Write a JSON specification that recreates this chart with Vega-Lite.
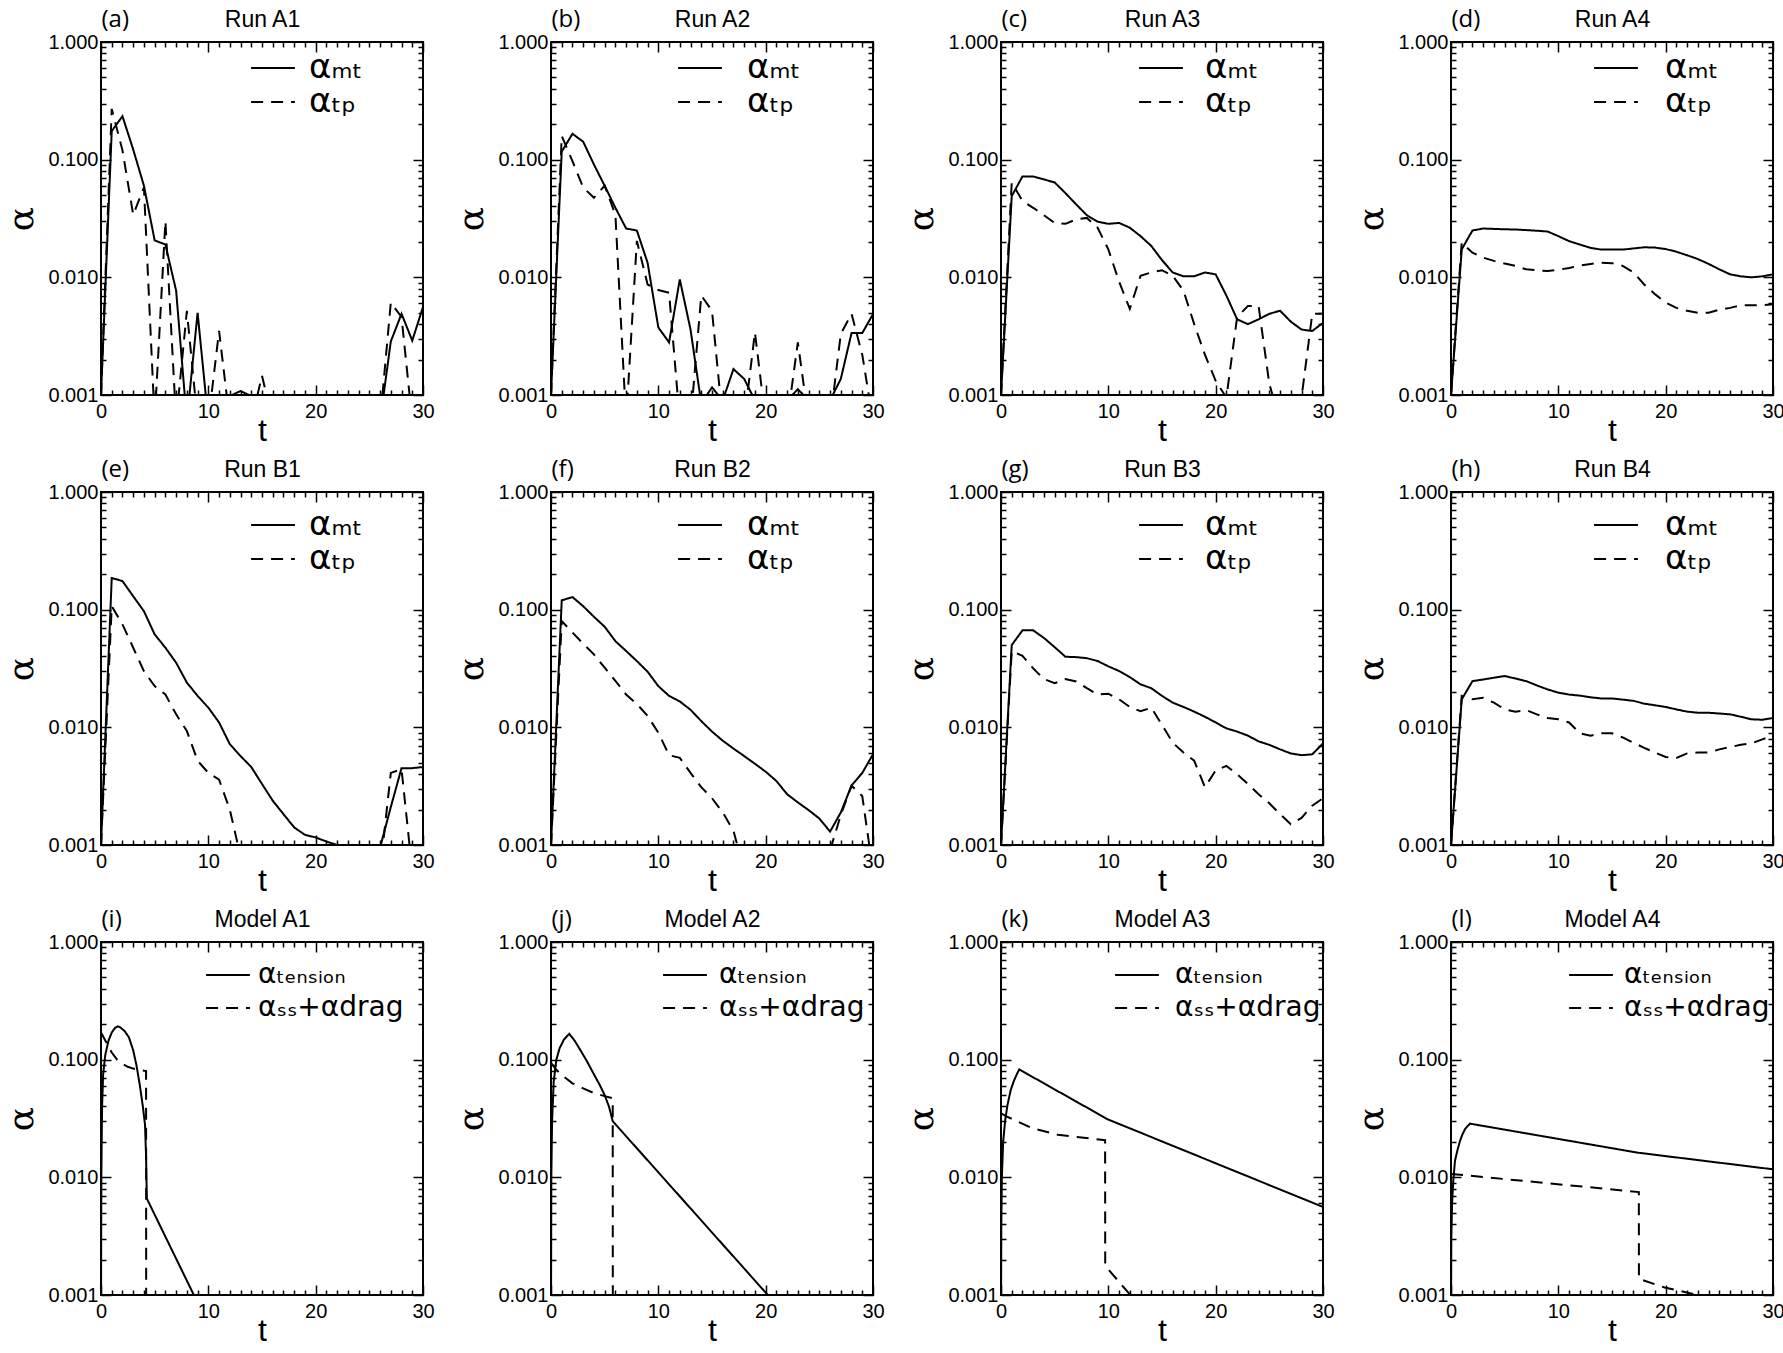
{
  "$schema": "https://vega.github.io/schema/vega-lite/v6.json",
  "background": "white",
  "padding": {"left": 2, "top": 6, "right": 5, "bottom": 5},
  "columns": 4,
  "spacing": {"row": 97, "column": 128},
  "bounds": "flush",
  "resolve": {"scale": {"strokeDash": "independent"}, "legend": {"strokeDash": "independent"}},
  "config": {
    "font": "Liberation Sans",
    "view": {"stroke": "black", "strokeWidth": 2},
    "line": {"color": "black", "strokeWidth": 2},
    "axis": {"grid": false, "domain": false, "tickColor": "black", "tickWidth": 1.5, "labelColor": "black", "labelFont": "Liberation Sans", "labelFontSize": 20, "titleColor": "black", "titleFont": "Liberation Sans", "titleFontWeight": "normal", "labelFlush": false, "labelOverlap": false, "labelBound": false},
    "axisBottom": {"titleFontSize": 32, "titlePadding": -11, "labelPadding": 16},
    "axisLeft": {"titleFont": "DejaVu Serif", "titleFontSize": 36, "titlePadding": 7, "labelPadding": 13},
    "legend": {"title": null, "orient": "none", "symbolType": "M-2,0H2", "symbolSize": 480, "symbolStrokeWidth": 2, "symbolStrokeColor": "black", "symbolFillColor": "transparent", "labelFont": "DejaVu Sans", "labelColor": "black", "padding": 0}
  },
  "datasets": {
    "runA1": [
      {"s":"mt","t":0,"v":0.001},{"s":"mt","t":1,"v":0.175},{"s":"mt","t":2,"v":0.234},{"s":"mt","t":3,"v":0.122},{"s":"mt","t":4,"v":0.06},{"s":"mt","t":5,"v":0.0206},{"s":"mt","t":6,"v":0.019},{"s":"mt","t":7,"v":0.0077},{"s":"mt","t":8,"v":0.0006},{"s":"mt","t":9,"v":0.005},{"s":"mt","t":10,"v":0.0006},{"s":"mt","t":11,"v":0.0006},{"s":"mt","t":12,"v":0.00098},{"s":"mt","t":13,"v":0.00108},{"s":"mt","t":14,"v":0.00098},{"s":"mt","t":15,"v":0.0006},{"s":"mt","t":16,"v":0.0006},{"s":"mt","t":17,"v":0.0006},{"s":"mt","t":18,"v":0.0006},{"s":"mt","t":19,"v":0.0006},{"s":"mt","t":20,"v":0.0006},{"s":"mt","t":21,"v":0.0006},{"s":"mt","t":22,"v":0.0006},{"s":"mt","t":23,"v":0.0006},{"s":"mt","t":24,"v":0.0006},{"s":"mt","t":25,"v":0.0006},{"s":"mt","t":26,"v":0.0006},{"s":"mt","t":27,"v":0.00285},{"s":"mt","t":28,"v":0.0049},{"s":"mt","t":29,"v":0.0029},{"s":"mt","t":30,"v":0.0056},
      {"s":"tp","t":0,"v":0.001},{"s":"tp","t":1,"v":0.27},{"s":"tp","t":2,"v":0.12},{"s":"tp","t":3,"v":0.034},{"s":"tp","t":4,"v":0.058},{"s":"tp","t":5,"v":0.0006},{"s":"tp","t":6,"v":0.03},{"s":"tp","t":7,"v":0.0006},{"s":"tp","t":8,"v":0.0052},{"s":"tp","t":9,"v":0.0006},{"s":"tp","t":10,"v":0.0006},{"s":"tp","t":11,"v":0.0035},{"s":"tp","t":12,"v":0.0006},{"s":"tp","t":13,"v":0.0006},{"s":"tp","t":14,"v":0.0006},{"s":"tp","t":15,"v":0.00146},{"s":"tp","t":16,"v":0.0006},{"s":"tp","t":17,"v":0.0006},{"s":"tp","t":18,"v":0.0006},{"s":"tp","t":19,"v":0.0006},{"s":"tp","t":20,"v":0.0006},{"s":"tp","t":21,"v":0.0006},{"s":"tp","t":22,"v":0.0006},{"s":"tp","t":23,"v":0.0006},{"s":"tp","t":24,"v":0.0006},{"s":"tp","t":25,"v":0.0006},{"s":"tp","t":26,"v":0.0006},{"s":"tp","t":27,"v":0.0061},{"s":"tp","t":28,"v":0.0046},{"s":"tp","t":29,"v":0.0006},{"s":"tp","t":30,"v":0.0006}
    ],
    "runA2": [
      {"s":"mt","t":0,"v":0.001},{"s":"mt","t":1,"v":0.117},{"s":"mt","t":2,"v":0.166},{"s":"mt","t":3,"v":0.142},{"s":"mt","t":4,"v":0.091},{"s":"mt","t":5,"v":0.06},{"s":"mt","t":6,"v":0.039},{"s":"mt","t":7,"v":0.026},{"s":"mt","t":8,"v":0.025},{"s":"mt","t":9,"v":0.0133},{"s":"mt","t":10,"v":0.00375},{"s":"mt","t":11,"v":0.0028},{"s":"mt","t":12,"v":0.0096},{"s":"mt","t":13,"v":0.0036},{"s":"mt","t":14,"v":0.00085},{"s":"mt","t":15,"v":0.00116},{"s":"mt","t":16,"v":0.0009},{"s":"mt","t":17,"v":0.00166},{"s":"mt","t":18,"v":0.00137},{"s":"mt","t":19,"v":0.0009},{"s":"mt","t":20,"v":0.0006},{"s":"mt","t":21,"v":0.0006},{"s":"mt","t":22,"v":0.0009},{"s":"mt","t":23,"v":0.00112},{"s":"mt","t":24,"v":0.0009},{"s":"mt","t":25,"v":0.0006},{"s":"mt","t":26,"v":0.0009},{"s":"mt","t":27,"v":0.00137},{"s":"mt","t":28,"v":0.00336},{"s":"mt","t":29,"v":0.00336},{"s":"mt","t":30,"v":0.00487},
      {"s":"tp","t":0,"v":0.001},{"s":"tp","t":1,"v":0.159},{"s":"tp","t":2,"v":0.097},{"s":"tp","t":3,"v":0.058},{"s":"tp","t":4,"v":0.0475},{"s":"tp","t":5,"v":0.06},{"s":"tp","t":6,"v":0.034},{"s":"tp","t":7,"v":0.0006},{"s":"tp","t":8,"v":0.0204},{"s":"tp","t":9,"v":0.0087},{"s":"tp","t":10,"v":0.0078},{"s":"tp","t":11,"v":0.0074},{"s":"tp","t":12,"v":0.0006},{"s":"tp","t":13,"v":0.0006},{"s":"tp","t":14,"v":0.007},{"s":"tp","t":15,"v":0.0052},{"s":"tp","t":16,"v":0.0006},{"s":"tp","t":17,"v":0.0006},{"s":"tp","t":18,"v":0.0006},{"s":"tp","t":19,"v":0.0034},{"s":"tp","t":20,"v":0.0006},{"s":"tp","t":21,"v":0.0006},{"s":"tp","t":22,"v":0.0006},{"s":"tp","t":23,"v":0.0028},{"s":"tp","t":24,"v":0.0006},{"s":"tp","t":25,"v":0.0006},{"s":"tp","t":26,"v":0.0006},{"s":"tp","t":27,"v":0.0033},{"s":"tp","t":28,"v":0.0049},{"s":"tp","t":29,"v":0.0022},{"s":"tp","t":30,"v":0.0006}
    ],
    "runA3": [
      {"s":"mt","t":0,"v":0.001},{"s":"mt","t":1,"v":0.049},{"s":"mt","t":2,"v":0.072},{"s":"mt","t":3,"v":0.072},{"s":"mt","t":4,"v":0.068},{"s":"mt","t":5,"v":0.064},{"s":"mt","t":6,"v":0.052},{"s":"mt","t":7,"v":0.0417},{"s":"mt","t":8,"v":0.0337},{"s":"mt","t":9,"v":0.0297},{"s":"mt","t":10,"v":0.0285},{"s":"mt","t":11,"v":0.029},{"s":"mt","t":12,"v":0.0264},{"s":"mt","t":13,"v":0.0224},{"s":"mt","t":14,"v":0.0185},{"s":"mt","t":15,"v":0.014},{"s":"mt","t":16,"v":0.011},{"s":"mt","t":17,"v":0.0102},{"s":"mt","t":18,"v":0.0102},{"s":"mt","t":19,"v":0.011},{"s":"mt","t":20,"v":0.0106},{"s":"mt","t":21,"v":0.007},{"s":"mt","t":22,"v":0.0044},{"s":"mt","t":23,"v":0.004},{"s":"mt","t":24,"v":0.0044},{"s":"mt","t":25,"v":0.0049},{"s":"mt","t":26,"v":0.0052},{"s":"mt","t":27,"v":0.0042},{"s":"mt","t":28,"v":0.0036},{"s":"mt","t":29,"v":0.0035},{"s":"mt","t":30,"v":0.0041},
      {"s":"tp","t":0,"v":0.001},{"s":"tp","t":1,"v":0.064},{"s":"tp","t":2,"v":0.0445},{"s":"tp","t":3,"v":0.039},{"s":"tp","t":4,"v":0.0337},{"s":"tp","t":5,"v":0.029},{"s":"tp","t":6,"v":0.0285},{"s":"tp","t":7,"v":0.0311},{"s":"tp","t":8,"v":0.032},{"s":"tp","t":9,"v":0.0264},{"s":"tp","t":10,"v":0.0173},{"s":"tp","t":11,"v":0.0092},{"s":"tp","t":12,"v":0.0054},{"s":"tp","t":13,"v":0.0103},{"s":"tp","t":14,"v":0.011},{"s":"tp","t":15,"v":0.0115},{"s":"tp","t":16,"v":0.0103},{"s":"tp","t":17,"v":0.0077},{"s":"tp","t":18,"v":0.004},{"s":"tp","t":19,"v":0.0022},{"s":"tp","t":20,"v":0.00132},{"s":"tp","t":21,"v":0.00095},{"s":"tp","t":22,"v":0.0046},{"s":"tp","t":23,"v":0.0057},{"s":"tp","t":24,"v":0.0057},{"s":"tp","t":25,"v":0.00124},{"s":"tp","t":26,"v":0.0006},{"s":"tp","t":27,"v":0.0006},{"s":"tp","t":28,"v":0.00095},{"s":"tp","t":29,"v":0.0049},{"s":"tp","t":30,"v":0.0049}
    ],
    "runA4": [
      {"s":"mt","t":0,"v":0.001},{"s":"mt","t":1,"v":0.0173},{"s":"mt","t":2,"v":0.025},{"s":"mt","t":3,"v":0.026},{"s":"mt","t":4,"v":0.0258},{"s":"mt","t":5,"v":0.0256},{"s":"mt","t":6,"v":0.0255},{"s":"mt","t":7,"v":0.0252},{"s":"mt","t":8,"v":0.0249},{"s":"mt","t":9,"v":0.0245},{"s":"mt","t":10,"v":0.0224},{"s":"mt","t":11,"v":0.0203},{"s":"mt","t":12,"v":0.019},{"s":"mt","t":13,"v":0.0178},{"s":"mt","t":14,"v":0.0172},{"s":"mt","t":15,"v":0.0172},{"s":"mt","t":16,"v":0.0172},{"s":"mt","t":17,"v":0.0176},{"s":"mt","t":18,"v":0.018},{"s":"mt","t":19,"v":0.0179},{"s":"mt","t":20,"v":0.0174},{"s":"mt","t":21,"v":0.0165},{"s":"mt","t":22,"v":0.0154},{"s":"mt","t":23,"v":0.0143},{"s":"mt","t":24,"v":0.013},{"s":"mt","t":25,"v":0.0117},{"s":"mt","t":26,"v":0.0106},{"s":"mt","t":27,"v":0.0102},{"s":"mt","t":28,"v":0.01},{"s":"mt","t":29,"v":0.0102},{"s":"mt","t":30,"v":0.0106},
      {"s":"tp","t":0,"v":0.001},{"s":"tp","t":1,"v":0.0197},{"s":"tp","t":2,"v":0.0162},{"s":"tp","t":3,"v":0.0147},{"s":"tp","t":4,"v":0.0138},{"s":"tp","t":5,"v":0.0131},{"s":"tp","t":6,"v":0.0125},{"s":"tp","t":7,"v":0.0117},{"s":"tp","t":8,"v":0.0115},{"s":"tp","t":9,"v":0.0113},{"s":"tp","t":10,"v":0.0116},{"s":"tp","t":11,"v":0.012},{"s":"tp","t":12,"v":0.0126},{"s":"tp","t":13,"v":0.013},{"s":"tp","t":14,"v":0.0133},{"s":"tp","t":15,"v":0.0132},{"s":"tp","t":16,"v":0.0125},{"s":"tp","t":17,"v":0.011},{"s":"tp","t":18,"v":0.0087},{"s":"tp","t":19,"v":0.0072},{"s":"tp","t":20,"v":0.0061},{"s":"tp","t":21,"v":0.0055},{"s":"tp","t":22,"v":0.0052},{"s":"tp","t":23,"v":0.005},{"s":"tp","t":24,"v":0.005},{"s":"tp","t":25,"v":0.0053},{"s":"tp","t":26,"v":0.0055},{"s":"tp","t":27,"v":0.0058},{"s":"tp","t":28,"v":0.0058},{"s":"tp","t":29,"v":0.0058},{"s":"tp","t":30,"v":0.0059}
    ],
    "runB1": [
      {"s":"mt","t":0,"v":0.001},{"s":"mt","t":1,"v":0.186},{"s":"mt","t":2,"v":0.175},{"s":"mt","t":3,"v":0.13},{"s":"mt","t":4,"v":0.097},{"s":"mt","t":5,"v":0.0616},{"s":"mt","t":6,"v":0.0475},{"s":"mt","t":7,"v":0.0354},{"s":"mt","t":8,"v":0.024},{"s":"mt","t":9,"v":0.0185},{"s":"mt","t":10,"v":0.0147},{"s":"mt","t":11,"v":0.011},{"s":"mt","t":12,"v":0.0072},{"s":"mt","t":13,"v":0.0057},{"s":"mt","t":14,"v":0.0046},{"s":"mt","t":15,"v":0.0033},{"s":"mt","t":16,"v":0.00238},{"s":"mt","t":17,"v":0.00183},{"s":"mt","t":18,"v":0.00141},{"s":"mt","t":19,"v":0.00122},{"s":"mt","t":20,"v":0.00116},{"s":"mt","t":21,"v":0.00107},{"s":"mt","t":22,"v":0.001},{"s":"mt","t":23,"v":0.00095},{"s":"mt","t":24,"v":0.00095},{"s":"mt","t":25,"v":0.00095},{"s":"mt","t":26,"v":0.00095},{"s":"mt","t":27,"v":0.0021},{"s":"mt","t":28,"v":0.0045},{"s":"mt","t":29,"v":0.0045},{"s":"mt","t":30,"v":0.0046},
      {"s":"tp","t":0,"v":0.001},{"s":"tp","t":1,"v":0.107},{"s":"tp","t":2,"v":0.075},{"s":"tp","t":3,"v":0.0475},{"s":"tp","t":4,"v":0.03},{"s":"tp","t":5,"v":0.0224},{"s":"tp","t":6,"v":0.019},{"s":"tp","t":7,"v":0.0129},{"s":"tp","t":8,"v":0.0093},{"s":"tp","t":9,"v":0.0052},{"s":"tp","t":10,"v":0.0041},{"s":"tp","t":11,"v":0.0036},{"s":"tp","t":12,"v":0.002},{"s":"tp","t":13,"v":0.0008},{"s":"tp","t":14,"v":0.00098},{"s":"tp","t":15,"v":0.0006},{"s":"tp","t":16,"v":0.0006},{"s":"tp","t":17,"v":0.0006},{"s":"tp","t":18,"v":0.0006},{"s":"tp","t":19,"v":0.0006},{"s":"tp","t":20,"v":0.0006},{"s":"tp","t":21,"v":0.0006},{"s":"tp","t":22,"v":0.0006},{"s":"tp","t":23,"v":0.0006},{"s":"tp","t":24,"v":0.0006},{"s":"tp","t":25,"v":0.0006},{"s":"tp","t":26,"v":0.0006},{"s":"tp","t":27,"v":0.0041},{"s":"tp","t":28,"v":0.0044},{"s":"tp","t":29,"v":0.0006},{"s":"tp","t":30,"v":0.0006}
    ],
    "runB2": [
      {"s":"mt","t":0,"v":0.001},{"s":"mt","t":1,"v":0.12},{"s":"mt","t":2,"v":0.128},{"s":"mt","t":3,"v":0.107},{"s":"mt","t":4,"v":0.087},{"s":"mt","t":5,"v":0.0716},{"s":"mt","t":6,"v":0.054},{"s":"mt","t":7,"v":0.0445},{"s":"mt","t":8,"v":0.0366},{"s":"mt","t":9,"v":0.0297},{"s":"mt","t":10,"v":0.0224},{"s":"mt","t":11,"v":0.0185},{"s":"mt","t":12,"v":0.0166},{"s":"mt","t":13,"v":0.0141},{"s":"mt","t":14,"v":0.0113},{"s":"mt","t":15,"v":0.0092},{"s":"mt","t":16,"v":0.0077},{"s":"mt","t":17,"v":0.0066},{"s":"mt","t":18,"v":0.0057},{"s":"mt","t":19,"v":0.0049},{"s":"mt","t":20,"v":0.0042},{"s":"mt","t":21,"v":0.0035},{"s":"mt","t":22,"v":0.0027},{"s":"mt","t":23,"v":0.0023},{"s":"mt","t":24,"v":0.00198},{"s":"mt","t":25,"v":0.00168},{"s":"mt","t":26,"v":0.0013},{"s":"mt","t":27,"v":0.00189},{"s":"mt","t":28,"v":0.0032},{"s":"mt","t":29,"v":0.0041},{"s":"mt","t":30,"v":0.0059},
      {"s":"tp","t":0,"v":0.001},{"s":"tp","t":1,"v":0.08},{"s":"tp","t":2,"v":0.064},{"s":"tp","t":3,"v":0.0513},{"s":"tp","t":4,"v":0.0417},{"s":"tp","t":5,"v":0.0321},{"s":"tp","t":6,"v":0.0248},{"s":"tp","t":7,"v":0.019},{"s":"tp","t":8,"v":0.0158},{"s":"tp","t":9,"v":0.0125},{"s":"tp","t":10,"v":0.009},{"s":"tp","t":11,"v":0.0058},{"s":"tp","t":12,"v":0.0055},{"s":"tp","t":13,"v":0.0041},{"s":"tp","t":14,"v":0.0031},{"s":"tp","t":15,"v":0.0025},{"s":"tp","t":16,"v":0.00189},{"s":"tp","t":17,"v":0.00132},{"s":"tp","t":18,"v":0.0006},{"s":"tp","t":19,"v":0.0006},{"s":"tp","t":20,"v":0.0006},{"s":"tp","t":21,"v":0.0006},{"s":"tp","t":22,"v":0.0006},{"s":"tp","t":23,"v":0.0006},{"s":"tp","t":24,"v":0.0006},{"s":"tp","t":25,"v":0.0006},{"s":"tp","t":26,"v":0.0009},{"s":"tp","t":27,"v":0.0018},{"s":"tp","t":28,"v":0.0032},{"s":"tp","t":29,"v":0.0026},{"s":"tp","t":30,"v":0.0006}
    ],
    "runB3": [
      {"s":"mt","t":0,"v":0.001},{"s":"mt","t":1,"v":0.05},{"s":"mt","t":2,"v":0.0667},{"s":"mt","t":3,"v":0.0667},{"s":"mt","t":4,"v":0.0575},{"s":"mt","t":5,"v":0.048},{"s":"mt","t":6,"v":0.0398},{"s":"mt","t":7,"v":0.0395},{"s":"mt","t":8,"v":0.0387},{"s":"mt","t":9,"v":0.0366},{"s":"mt","t":10,"v":0.033},{"s":"mt","t":11,"v":0.0301},{"s":"mt","t":12,"v":0.0267},{"s":"mt","t":13,"v":0.0232},{"s":"mt","t":14,"v":0.0215},{"s":"mt","t":15,"v":0.0185},{"s":"mt","t":16,"v":0.0162},{"s":"mt","t":17,"v":0.0149},{"s":"mt","t":18,"v":0.0136},{"s":"mt","t":19,"v":0.0123},{"s":"mt","t":20,"v":0.011},{"s":"mt","t":21,"v":0.0098},{"s":"mt","t":22,"v":0.0092},{"s":"mt","t":23,"v":0.0085},{"s":"mt","t":24,"v":0.0076},{"s":"mt","t":25,"v":0.0071},{"s":"mt","t":26,"v":0.0065},{"s":"mt","t":27,"v":0.006},{"s":"mt","t":28,"v":0.0058},{"s":"mt","t":29,"v":0.0059},{"s":"mt","t":30,"v":0.0073},
      {"s":"tp","t":0,"v":0.001},{"s":"tp","t":1,"v":0.0445},{"s":"tp","t":2,"v":0.0405},{"s":"tp","t":3,"v":0.0317},{"s":"tp","t":4,"v":0.0257},{"s":"tp","t":5,"v":0.0237},{"s":"tp","t":6,"v":0.0257},{"s":"tp","t":7,"v":0.0245},{"s":"tp","t":8,"v":0.0215},{"s":"tp","t":9,"v":0.019},{"s":"tp","t":10,"v":0.0193},{"s":"tp","t":11,"v":0.0173},{"s":"tp","t":12,"v":0.0149},{"s":"tp","t":13,"v":0.0137},{"s":"tp","t":14,"v":0.0147},{"s":"tp","t":15,"v":0.0105},{"s":"tp","t":16,"v":0.0074},{"s":"tp","t":17,"v":0.0061},{"s":"tp","t":18,"v":0.0052},{"s":"tp","t":19,"v":0.0031},{"s":"tp","t":20,"v":0.0043},{"s":"tp","t":21,"v":0.0047},{"s":"tp","t":22,"v":0.004},{"s":"tp","t":23,"v":0.0033},{"s":"tp","t":24,"v":0.0027},{"s":"tp","t":25,"v":0.00226},{"s":"tp","t":26,"v":0.00183},{"s":"tp","t":27,"v":0.0015},{"s":"tp","t":28,"v":0.0017},{"s":"tp","t":29,"v":0.00216},{"s":"tp","t":30,"v":0.0025}
    ],
    "runB4": [
      {"s":"mt","t":0,"v":0.001},{"s":"mt","t":1,"v":0.0173},{"s":"mt","t":2,"v":0.0247},{"s":"mt","t":3,"v":0.0255},{"s":"mt","t":4,"v":0.0264},{"s":"mt","t":5,"v":0.0273},{"s":"mt","t":6,"v":0.026},{"s":"mt","t":7,"v":0.0247},{"s":"mt","t":8,"v":0.0227},{"s":"mt","t":9,"v":0.021},{"s":"mt","t":10,"v":0.0197},{"s":"mt","t":11,"v":0.019},{"s":"mt","t":12,"v":0.0186},{"s":"mt","t":13,"v":0.018},{"s":"mt","t":14,"v":0.0176},{"s":"mt","t":15,"v":0.0176},{"s":"mt","t":16,"v":0.0172},{"s":"mt","t":17,"v":0.0168},{"s":"mt","t":18,"v":0.0159},{"s":"mt","t":19,"v":0.0154},{"s":"mt","t":20,"v":0.0149},{"s":"mt","t":21,"v":0.0142},{"s":"mt","t":22,"v":0.0136},{"s":"mt","t":23,"v":0.0133},{"s":"mt","t":24,"v":0.0133},{"s":"mt","t":25,"v":0.0131},{"s":"mt","t":26,"v":0.0129},{"s":"mt","t":27,"v":0.0123},{"s":"mt","t":28,"v":0.0117},{"s":"mt","t":29,"v":0.0116},{"s":"mt","t":30,"v":0.012},
      {"s":"tp","t":0,"v":0.001},{"s":"tp","t":1,"v":0.0185},{"s":"tp","t":2,"v":0.0173},{"s":"tp","t":3,"v":0.0178},{"s":"tp","t":4,"v":0.0162},{"s":"tp","t":5,"v":0.0142},{"s":"tp","t":6,"v":0.0136},{"s":"tp","t":7,"v":0.014},{"s":"tp","t":8,"v":0.0129},{"s":"tp","t":9,"v":0.012},{"s":"tp","t":10,"v":0.0117},{"s":"tp","t":11,"v":0.011},{"s":"tp","t":12,"v":0.0089},{"s":"tp","t":13,"v":0.0085},{"s":"tp","t":14,"v":0.0089},{"s":"tp","t":15,"v":0.0089},{"s":"tp","t":16,"v":0.0082},{"s":"tp","t":17,"v":0.0074},{"s":"tp","t":18,"v":0.0067},{"s":"tp","t":19,"v":0.0061},{"s":"tp","t":20,"v":0.0056},{"s":"tp","t":21,"v":0.0055},{"s":"tp","t":22,"v":0.006},{"s":"tp","t":23,"v":0.0061},{"s":"tp","t":24,"v":0.0061},{"s":"tp","t":25,"v":0.0065},{"s":"tp","t":26,"v":0.0068},{"s":"tp","t":27,"v":0.0071},{"s":"tp","t":28,"v":0.0073},{"s":"tp","t":29,"v":0.0079},{"s":"tp","t":30,"v":0.0085}
    ],
    "modelA1": [
      {"s":"tension","t":0,"v":0.0006},{"s":"tension","t":0.03,"v":0.01},{"s":"tension","t":0.1,"v":0.04},{"s":"tension","t":0.2,"v":0.075},{"s":"tension","t":0.4,"v":0.11},{"s":"tension","t":0.7,"v":0.145},{"s":"tension","t":1.0,"v":0.17},{"s":"tension","t":1.3,"v":0.186},{"s":"tension","t":1.55,"v":0.192},{"s":"tension","t":1.8,"v":0.188},{"s":"tension","t":2.2,"v":0.175},{"s":"tension","t":2.6,"v":0.155},{"s":"tension","t":3.0,"v":0.12},{"s":"tension","t":3.3,"v":0.09},{"s":"tension","t":3.6,"v":0.062},{"s":"tension","t":3.9,"v":0.04},{"s":"tension","t":4.1,"v":0.028},{"s":"tension","t":4.2,"v":0.015},{"s":"tension","t":4.27,"v":0.0066},{"s":"tension","t":8.65,"v":0.001},{"s":"tension","t":9,"v":0.00085},
      {"s":"ssdrag","t":0,"v":0.17},{"s":"ssdrag","t":0.5,"v":0.14},{"s":"ssdrag","t":1,"v":0.115},{"s":"ssdrag","t":1.5,"v":0.1},{"s":"ssdrag","t":2,"v":0.092},{"s":"ssdrag","t":2.5,"v":0.087},{"s":"ssdrag","t":3,"v":0.084},{"s":"ssdrag","t":3.5,"v":0.082},{"s":"ssdrag","t":4.2,"v":0.08},{"s":"ssdrag","t":4.21,"v":0.0006}
    ],
    "modelA2": [
      {"s":"tension","t":0,"v":0.0006},{"s":"tension","t":0.03,"v":0.01},{"s":"tension","t":0.1,"v":0.03},{"s":"tension","t":0.25,"v":0.065},{"s":"tension","t":0.5,"v":0.1},{"s":"tension","t":0.8,"v":0.125},{"s":"tension","t":1.2,"v":0.148},{"s":"tension","t":1.7,"v":0.166},{"s":"tension","t":2.2,"v":0.145},{"s":"tension","t":2.8,"v":0.118},{"s":"tension","t":3.4,"v":0.095},{"s":"tension","t":4,"v":0.075},{"s":"tension","t":4.5,"v":0.062},{"s":"tension","t":5,"v":0.05},{"s":"tension","t":5.4,"v":0.04},{"s":"tension","t":5.75,"v":0.03},{"s":"tension","t":20.2,"v":0.001},{"s":"tension","t":20.5,"v":0.0009},
      {"s":"ssdrag","t":0,"v":0.094},{"s":"ssdrag","t":0.5,"v":0.082},{"s":"ssdrag","t":1,"v":0.074},{"s":"ssdrag","t":2,"v":0.063},{"s":"ssdrag","t":3,"v":0.057},{"s":"ssdrag","t":4,"v":0.052},{"s":"ssdrag","t":5,"v":0.049},{"s":"ssdrag","t":5.75,"v":0.047},{"s":"ssdrag","t":5.76,"v":0.0006}
    ],
    "modelA3": [
      {"s":"tension","t":0,"v":0.0006},{"s":"tension","t":0.03,"v":0.004},{"s":"tension","t":0.08,"v":0.01},{"s":"tension","t":0.2,"v":0.02},{"s":"tension","t":0.4,"v":0.031},{"s":"tension","t":0.6,"v":0.041},{"s":"tension","t":0.9,"v":0.055},{"s":"tension","t":1.2,"v":0.066},{"s":"tension","t":1.5,"v":0.076},{"s":"tension","t":1.7,"v":0.0826},{"s":"tension","t":9.95,"v":0.0311},{"s":"tension","t":30,"v":0.0056},
      {"s":"ssdrag","t":0,"v":0.035},{"s":"ssdrag","t":0.5,"v":0.033},{"s":"ssdrag","t":2.8,"v":0.0264},{"s":"ssdrag","t":5.3,"v":0.023},{"s":"ssdrag","t":9.7,"v":0.0207},{"s":"ssdrag","t":9.71,"v":0.00177},{"s":"ssdrag","t":11.97,"v":0.00102},{"s":"ssdrag","t":12.5,"v":0.00095}
    ],
    "modelA4": [
      {"s":"tension","t":0,"v":0.0006},{"s":"tension","t":0.03,"v":0.003},{"s":"tension","t":0.1,"v":0.006},{"s":"tension","t":0.2,"v":0.009},{"s":"tension","t":0.37,"v":0.0138},{"s":"tension","t":0.6,"v":0.017},{"s":"tension","t":0.84,"v":0.0204},{"s":"tension","t":1.05,"v":0.023},{"s":"tension","t":1.3,"v":0.0256},{"s":"tension","t":1.55,"v":0.0273},{"s":"tension","t":1.77,"v":0.0286},{"s":"tension","t":17.4,"v":0.0162},{"s":"tension","t":30,"v":0.0117},
      {"s":"ssdrag","t":0,"v":0.0107},{"s":"ssdrag","t":17.5,"v":0.0075},{"s":"ssdrag","t":17.51,"v":0.00137},{"s":"ssdrag","t":19.9,"v":0.00116},{"s":"ssdrag","t":23,"v":0.001},{"s":"ssdrag","t":25,"v":0.0009}
    ]
  },
  "concat": [
    {"data": {"name": "runA1"}, "width": 322, "height": 353, "resolve": {"axis": {"x": "independent", "y": "independent"}},
     "layer": [
      {"mark": {"type": "line", "clip": true},
       "encoding": {
        "x": {"field": "t", "type": "quantitative", "scale": {"domain": [0, 30], "nice": false}, "axis": {"orient": "bottom", "values": [0,1,2,3,4,5,6,7,8,9,10,11,12,13,14,15,16,17,18,19,20,21,22,23,24,25,26,27,28,29,30], "labelExpr": "datum.value % 10 === 0 ? datum.label : ''", "tickSize": {"condition": {"test": "datum.value % 10 === 0", "value": -10}, "value": -5}, "title": "t"}},
        "y": {"field": "v", "type": "quantitative", "scale": {"type": "log", "domain": [0.001, 1], "nice": false}, "axis": {"orient": "left", "values": [0.001,0.002,0.003,0.004,0.005,0.006,0.007,0.008,0.009,0.01,0.02,0.03,0.04,0.05,0.06,0.07,0.08,0.09,0.1,0.2,0.3,0.4,0.5,0.6,0.7,0.8,0.9,1], "labelExpr": "indexof([0.001,0.01,0.1,1], datum.value) >= 0 ? format(datum.value, '.3f') : ''", "tickSize": {"condition": {"test": "indexof([0.001,0.01,0.1,1], datum.value) >= 0", "value": -10}, "value": -5}, "title": "α"}},
        "strokeDash": {"field": "s", "type": "nominal", "scale": {"domain": ["mt", "tp"], "range": [[1, 0], [12, 8]]}, "legend": {"title": null, "legendX": 155, "legendY": 9, "labelOffset": 19, "labelFontSize": 34, "rowPadding": 0, "labelExpr": "datum.value === 'mt' ? 'αₘₜ' : 'αₜₚ'"}}
       }},
      {"mark": {"type": "line", "opacity": 0},
       "encoding": {
        "x": {"field": "t", "type": "quantitative", "scale": {"domain": [0, 30], "nice": false}, "axis": {"orient": "top", "values": [0,1,2,3,4,5,6,7,8,9,10,11,12,13,14,15,16,17,18,19,20,21,22,23,24,25,26,27,28,29,30], "labels": false, "tickSize": {"condition": {"test": "datum.value % 10 === 0", "value": -10}, "value": -5}, "title": "Run A1", "titleFontSize": 23, "titlePadding": 10}},
        "y": {"field": "v", "type": "quantitative", "scale": {"type": "log", "domain": [0.001, 1], "nice": false}, "axis": {"orient": "right", "values": [0.001,0.002,0.003,0.004,0.005,0.006,0.007,0.008,0.009,0.01,0.02,0.03,0.04,0.05,0.06,0.07,0.08,0.09,0.1,0.2,0.3,0.4,0.5,0.6,0.7,0.8,0.9,1], "labels": false, "tickSize": {"condition": {"test": "indexof([0.001,0.01,0.1,1], datum.value) >= 0", "value": -10}, "value": -5}, "title": null}}
       }},
      {"mark": {"type": "line", "opacity": 0},
       "encoding": {
        "x": {"field": "t", "type": "quantitative", "scale": {"domain": [0, 30], "nice": false}, "axis": {"orient": "top", "ticks": false, "labels": false, "title": "(a)", "titleAnchor": "start", "titleFont": "Open Sans", "titleFontSize": 24, "titlePadding": 11}},
        "y": {"field": "v", "type": "quantitative", "scale": {"type": "log", "domain": [0.001, 1], "nice": false}, "axis": null}
       }}
     ]},
    {"data": {"name": "runA2"}, "width": 322, "height": 353, "resolve": {"axis": {"x": "independent", "y": "independent"}},
     "layer": [
      {"mark": {"type": "line", "clip": true},
       "encoding": {
        "x": {"field": "t", "type": "quantitative", "scale": {"domain": [0, 30], "nice": false}, "axis": {"orient": "bottom", "values": [0,1,2,3,4,5,6,7,8,9,10,11,12,13,14,15,16,17,18,19,20,21,22,23,24,25,26,27,28,29,30], "labelExpr": "datum.value % 10 === 0 ? datum.label : ''", "tickSize": {"condition": {"test": "datum.value % 10 === 0", "value": -10}, "value": -5}, "title": "t"}},
        "y": {"field": "v", "type": "quantitative", "scale": {"type": "log", "domain": [0.001, 1], "nice": false}, "axis": {"orient": "left", "values": [0.001,0.002,0.003,0.004,0.005,0.006,0.007,0.008,0.009,0.01,0.02,0.03,0.04,0.05,0.06,0.07,0.08,0.09,0.1,0.2,0.3,0.4,0.5,0.6,0.7,0.8,0.9,1], "labelExpr": "indexof([0.001,0.01,0.1,1], datum.value) >= 0 ? format(datum.value, '.3f') : ''", "tickSize": {"condition": {"test": "indexof([0.001,0.01,0.1,1], datum.value) >= 0", "value": -10}, "value": -5}, "title": "α"}},
        "strokeDash": {"field": "s", "type": "nominal", "scale": {"domain": ["mt", "tp"], "range": [[1, 0], [12, 8]]}, "legend": {"title": null, "legendX": 132, "legendY": 9, "labelOffset": 30, "labelFontSize": 34, "rowPadding": 0, "labelExpr": "datum.value === 'mt' ? 'αₘₜ' : 'αₜₚ'"}}
       }},
      {"mark": {"type": "line", "opacity": 0},
       "encoding": {
        "x": {"field": "t", "type": "quantitative", "scale": {"domain": [0, 30], "nice": false}, "axis": {"orient": "top", "values": [0,1,2,3,4,5,6,7,8,9,10,11,12,13,14,15,16,17,18,19,20,21,22,23,24,25,26,27,28,29,30], "labels": false, "tickSize": {"condition": {"test": "datum.value % 10 === 0", "value": -10}, "value": -5}, "title": "Run A2", "titleFontSize": 23, "titlePadding": 10}},
        "y": {"field": "v", "type": "quantitative", "scale": {"type": "log", "domain": [0.001, 1], "nice": false}, "axis": {"orient": "right", "values": [0.001,0.002,0.003,0.004,0.005,0.006,0.007,0.008,0.009,0.01,0.02,0.03,0.04,0.05,0.06,0.07,0.08,0.09,0.1,0.2,0.3,0.4,0.5,0.6,0.7,0.8,0.9,1], "labels": false, "tickSize": {"condition": {"test": "indexof([0.001,0.01,0.1,1], datum.value) >= 0", "value": -10}, "value": -5}, "title": null}}
       }},
      {"mark": {"type": "line", "opacity": 0},
       "encoding": {
        "x": {"field": "t", "type": "quantitative", "scale": {"domain": [0, 30], "nice": false}, "axis": {"orient": "top", "ticks": false, "labels": false, "title": "(b)", "titleAnchor": "start", "titleFont": "Open Sans", "titleFontSize": 24, "titlePadding": 11}},
        "y": {"field": "v", "type": "quantitative", "scale": {"type": "log", "domain": [0.001, 1], "nice": false}, "axis": null}
       }}
     ]},
    {"data": {"name": "runA3"}, "width": 322, "height": 353, "resolve": {"axis": {"x": "independent", "y": "independent"}},
     "layer": [
      {"mark": {"type": "line", "clip": true},
       "encoding": {
        "x": {"field": "t", "type": "quantitative", "scale": {"domain": [0, 30], "nice": false}, "axis": {"orient": "bottom", "values": [0,1,2,3,4,5,6,7,8,9,10,11,12,13,14,15,16,17,18,19,20,21,22,23,24,25,26,27,28,29,30], "labelExpr": "datum.value % 10 === 0 ? datum.label : ''", "tickSize": {"condition": {"test": "datum.value % 10 === 0", "value": -10}, "value": -5}, "title": "t"}},
        "y": {"field": "v", "type": "quantitative", "scale": {"type": "log", "domain": [0.001, 1], "nice": false}, "axis": {"orient": "left", "values": [0.001,0.002,0.003,0.004,0.005,0.006,0.007,0.008,0.009,0.01,0.02,0.03,0.04,0.05,0.06,0.07,0.08,0.09,0.1,0.2,0.3,0.4,0.5,0.6,0.7,0.8,0.9,1], "labelExpr": "indexof([0.001,0.01,0.1,1], datum.value) >= 0 ? format(datum.value, '.3f') : ''", "tickSize": {"condition": {"test": "indexof([0.001,0.01,0.1,1], datum.value) >= 0", "value": -10}, "value": -5}, "title": "α"}},
        "strokeDash": {"field": "s", "type": "nominal", "scale": {"domain": ["mt", "tp"], "range": [[1, 0], [12, 8]]}, "legend": {"title": null, "legendX": 143, "legendY": 9, "labelOffset": 27, "labelFontSize": 34, "rowPadding": 0, "labelExpr": "datum.value === 'mt' ? 'αₘₜ' : 'αₜₚ'"}}
       }},
      {"mark": {"type": "line", "opacity": 0},
       "encoding": {
        "x": {"field": "t", "type": "quantitative", "scale": {"domain": [0, 30], "nice": false}, "axis": {"orient": "top", "values": [0,1,2,3,4,5,6,7,8,9,10,11,12,13,14,15,16,17,18,19,20,21,22,23,24,25,26,27,28,29,30], "labels": false, "tickSize": {"condition": {"test": "datum.value % 10 === 0", "value": -10}, "value": -5}, "title": "Run A3", "titleFontSize": 23, "titlePadding": 10}},
        "y": {"field": "v", "type": "quantitative", "scale": {"type": "log", "domain": [0.001, 1], "nice": false}, "axis": {"orient": "right", "values": [0.001,0.002,0.003,0.004,0.005,0.006,0.007,0.008,0.009,0.01,0.02,0.03,0.04,0.05,0.06,0.07,0.08,0.09,0.1,0.2,0.3,0.4,0.5,0.6,0.7,0.8,0.9,1], "labels": false, "tickSize": {"condition": {"test": "indexof([0.001,0.01,0.1,1], datum.value) >= 0", "value": -10}, "value": -5}, "title": null}}
       }},
      {"mark": {"type": "line", "opacity": 0},
       "encoding": {
        "x": {"field": "t", "type": "quantitative", "scale": {"domain": [0, 30], "nice": false}, "axis": {"orient": "top", "ticks": false, "labels": false, "title": "(c)", "titleAnchor": "start", "titleFont": "Open Sans", "titleFontSize": 24, "titlePadding": 11}},
        "y": {"field": "v", "type": "quantitative", "scale": {"type": "log", "domain": [0.001, 1], "nice": false}, "axis": null}
       }}
     ]},
    {"data": {"name": "runA4"}, "width": 322, "height": 353, "resolve": {"axis": {"x": "independent", "y": "independent"}},
     "layer": [
      {"mark": {"type": "line", "clip": true},
       "encoding": {
        "x": {"field": "t", "type": "quantitative", "scale": {"domain": [0, 30], "nice": false}, "axis": {"orient": "bottom", "values": [0,1,2,3,4,5,6,7,8,9,10,11,12,13,14,15,16,17,18,19,20,21,22,23,24,25,26,27,28,29,30], "labelExpr": "datum.value % 10 === 0 ? datum.label : ''", "tickSize": {"condition": {"test": "datum.value % 10 === 0", "value": -10}, "value": -5}, "title": "t"}},
        "y": {"field": "v", "type": "quantitative", "scale": {"type": "log", "domain": [0.001, 1], "nice": false}, "axis": {"orient": "left", "values": [0.001,0.002,0.003,0.004,0.005,0.006,0.007,0.008,0.009,0.01,0.02,0.03,0.04,0.05,0.06,0.07,0.08,0.09,0.1,0.2,0.3,0.4,0.5,0.6,0.7,0.8,0.9,1], "labelExpr": "indexof([0.001,0.01,0.1,1], datum.value) >= 0 ? format(datum.value, '.3f') : ''", "tickSize": {"condition": {"test": "indexof([0.001,0.01,0.1,1], datum.value) >= 0", "value": -10}, "value": -5}, "title": "α"}},
        "strokeDash": {"field": "s", "type": "nominal", "scale": {"domain": ["mt", "tp"], "range": [[1, 0], [12, 8]]}, "legend": {"title": null, "legendX": 148, "legendY": 9, "labelOffset": 32, "labelFontSize": 34, "rowPadding": 0, "labelExpr": "datum.value === 'mt' ? 'αₘₜ' : 'αₜₚ'"}}
       }},
      {"mark": {"type": "line", "opacity": 0},
       "encoding": {
        "x": {"field": "t", "type": "quantitative", "scale": {"domain": [0, 30], "nice": false}, "axis": {"orient": "top", "values": [0,1,2,3,4,5,6,7,8,9,10,11,12,13,14,15,16,17,18,19,20,21,22,23,24,25,26,27,28,29,30], "labels": false, "tickSize": {"condition": {"test": "datum.value % 10 === 0", "value": -10}, "value": -5}, "title": "Run A4", "titleFontSize": 23, "titlePadding": 10}},
        "y": {"field": "v", "type": "quantitative", "scale": {"type": "log", "domain": [0.001, 1], "nice": false}, "axis": {"orient": "right", "values": [0.001,0.002,0.003,0.004,0.005,0.006,0.007,0.008,0.009,0.01,0.02,0.03,0.04,0.05,0.06,0.07,0.08,0.09,0.1,0.2,0.3,0.4,0.5,0.6,0.7,0.8,0.9,1], "labels": false, "tickSize": {"condition": {"test": "indexof([0.001,0.01,0.1,1], datum.value) >= 0", "value": -10}, "value": -5}, "title": null}}
       }},
      {"mark": {"type": "line", "opacity": 0},
       "encoding": {
        "x": {"field": "t", "type": "quantitative", "scale": {"domain": [0, 30], "nice": false}, "axis": {"orient": "top", "ticks": false, "labels": false, "title": "(d)", "titleAnchor": "start", "titleFont": "Open Sans", "titleFontSize": 24, "titlePadding": 11}},
        "y": {"field": "v", "type": "quantitative", "scale": {"type": "log", "domain": [0.001, 1], "nice": false}, "axis": null}
       }}
     ]},
    {"data": {"name": "runB1"}, "width": 322, "height": 353, "resolve": {"axis": {"x": "independent", "y": "independent"}},
     "layer": [
      {"mark": {"type": "line", "clip": true},
       "encoding": {
        "x": {"field": "t", "type": "quantitative", "scale": {"domain": [0, 30], "nice": false}, "axis": {"orient": "bottom", "values": [0,1,2,3,4,5,6,7,8,9,10,11,12,13,14,15,16,17,18,19,20,21,22,23,24,25,26,27,28,29,30], "labelExpr": "datum.value % 10 === 0 ? datum.label : ''", "tickSize": {"condition": {"test": "datum.value % 10 === 0", "value": -10}, "value": -5}, "title": "t"}},
        "y": {"field": "v", "type": "quantitative", "scale": {"type": "log", "domain": [0.001, 1], "nice": false}, "axis": {"orient": "left", "values": [0.001,0.002,0.003,0.004,0.005,0.006,0.007,0.008,0.009,0.01,0.02,0.03,0.04,0.05,0.06,0.07,0.08,0.09,0.1,0.2,0.3,0.4,0.5,0.6,0.7,0.8,0.9,1], "labelExpr": "indexof([0.001,0.01,0.1,1], datum.value) >= 0 ? format(datum.value, '.3f') : ''", "tickSize": {"condition": {"test": "indexof([0.001,0.01,0.1,1], datum.value) >= 0", "value": -10}, "value": -5}, "title": "α"}},
        "strokeDash": {"field": "s", "type": "nominal", "scale": {"domain": ["mt", "tp"], "range": [[1, 0], [12, 8]]}, "legend": {"title": null, "legendX": 155, "legendY": 16, "labelOffset": 19, "labelFontSize": 34, "rowPadding": 0, "labelExpr": "datum.value === 'mt' ? 'αₘₜ' : 'αₜₚ'"}}
       }},
      {"mark": {"type": "line", "opacity": 0},
       "encoding": {
        "x": {"field": "t", "type": "quantitative", "scale": {"domain": [0, 30], "nice": false}, "axis": {"orient": "top", "values": [0,1,2,3,4,5,6,7,8,9,10,11,12,13,14,15,16,17,18,19,20,21,22,23,24,25,26,27,28,29,30], "labels": false, "tickSize": {"condition": {"test": "datum.value % 10 === 0", "value": -10}, "value": -5}, "title": "Run B1", "titleFontSize": 23, "titlePadding": 10}},
        "y": {"field": "v", "type": "quantitative", "scale": {"type": "log", "domain": [0.001, 1], "nice": false}, "axis": {"orient": "right", "values": [0.001,0.002,0.003,0.004,0.005,0.006,0.007,0.008,0.009,0.01,0.02,0.03,0.04,0.05,0.06,0.07,0.08,0.09,0.1,0.2,0.3,0.4,0.5,0.6,0.7,0.8,0.9,1], "labels": false, "tickSize": {"condition": {"test": "indexof([0.001,0.01,0.1,1], datum.value) >= 0", "value": -10}, "value": -5}, "title": null}}
       }},
      {"mark": {"type": "line", "opacity": 0},
       "encoding": {
        "x": {"field": "t", "type": "quantitative", "scale": {"domain": [0, 30], "nice": false}, "axis": {"orient": "top", "ticks": false, "labels": false, "title": "(e)", "titleAnchor": "start", "titleFont": "Open Sans", "titleFontSize": 24, "titlePadding": 11}},
        "y": {"field": "v", "type": "quantitative", "scale": {"type": "log", "domain": [0.001, 1], "nice": false}, "axis": null}
       }}
     ]},
    {"data": {"name": "runB2"}, "width": 322, "height": 353, "resolve": {"axis": {"x": "independent", "y": "independent"}},
     "layer": [
      {"mark": {"type": "line", "clip": true},
       "encoding": {
        "x": {"field": "t", "type": "quantitative", "scale": {"domain": [0, 30], "nice": false}, "axis": {"orient": "bottom", "values": [0,1,2,3,4,5,6,7,8,9,10,11,12,13,14,15,16,17,18,19,20,21,22,23,24,25,26,27,28,29,30], "labelExpr": "datum.value % 10 === 0 ? datum.label : ''", "tickSize": {"condition": {"test": "datum.value % 10 === 0", "value": -10}, "value": -5}, "title": "t"}},
        "y": {"field": "v", "type": "quantitative", "scale": {"type": "log", "domain": [0.001, 1], "nice": false}, "axis": {"orient": "left", "values": [0.001,0.002,0.003,0.004,0.005,0.006,0.007,0.008,0.009,0.01,0.02,0.03,0.04,0.05,0.06,0.07,0.08,0.09,0.1,0.2,0.3,0.4,0.5,0.6,0.7,0.8,0.9,1], "labelExpr": "indexof([0.001,0.01,0.1,1], datum.value) >= 0 ? format(datum.value, '.3f') : ''", "tickSize": {"condition": {"test": "indexof([0.001,0.01,0.1,1], datum.value) >= 0", "value": -10}, "value": -5}, "title": "α"}},
        "strokeDash": {"field": "s", "type": "nominal", "scale": {"domain": ["mt", "tp"], "range": [[1, 0], [12, 8]]}, "legend": {"title": null, "legendX": 132, "legendY": 16, "labelOffset": 30, "labelFontSize": 34, "rowPadding": 0, "labelExpr": "datum.value === 'mt' ? 'αₘₜ' : 'αₜₚ'"}}
       }},
      {"mark": {"type": "line", "opacity": 0},
       "encoding": {
        "x": {"field": "t", "type": "quantitative", "scale": {"domain": [0, 30], "nice": false}, "axis": {"orient": "top", "values": [0,1,2,3,4,5,6,7,8,9,10,11,12,13,14,15,16,17,18,19,20,21,22,23,24,25,26,27,28,29,30], "labels": false, "tickSize": {"condition": {"test": "datum.value % 10 === 0", "value": -10}, "value": -5}, "title": "Run B2", "titleFontSize": 23, "titlePadding": 10}},
        "y": {"field": "v", "type": "quantitative", "scale": {"type": "log", "domain": [0.001, 1], "nice": false}, "axis": {"orient": "right", "values": [0.001,0.002,0.003,0.004,0.005,0.006,0.007,0.008,0.009,0.01,0.02,0.03,0.04,0.05,0.06,0.07,0.08,0.09,0.1,0.2,0.3,0.4,0.5,0.6,0.7,0.8,0.9,1], "labels": false, "tickSize": {"condition": {"test": "indexof([0.001,0.01,0.1,1], datum.value) >= 0", "value": -10}, "value": -5}, "title": null}}
       }},
      {"mark": {"type": "line", "opacity": 0},
       "encoding": {
        "x": {"field": "t", "type": "quantitative", "scale": {"domain": [0, 30], "nice": false}, "axis": {"orient": "top", "ticks": false, "labels": false, "title": "(f)", "titleAnchor": "start", "titleFont": "Open Sans", "titleFontSize": 24, "titlePadding": 11}},
        "y": {"field": "v", "type": "quantitative", "scale": {"type": "log", "domain": [0.001, 1], "nice": false}, "axis": null}
       }}
     ]},
    {"data": {"name": "runB3"}, "width": 322, "height": 353, "resolve": {"axis": {"x": "independent", "y": "independent"}},
     "layer": [
      {"mark": {"type": "line", "clip": true},
       "encoding": {
        "x": {"field": "t", "type": "quantitative", "scale": {"domain": [0, 30], "nice": false}, "axis": {"orient": "bottom", "values": [0,1,2,3,4,5,6,7,8,9,10,11,12,13,14,15,16,17,18,19,20,21,22,23,24,25,26,27,28,29,30], "labelExpr": "datum.value % 10 === 0 ? datum.label : ''", "tickSize": {"condition": {"test": "datum.value % 10 === 0", "value": -10}, "value": -5}, "title": "t"}},
        "y": {"field": "v", "type": "quantitative", "scale": {"type": "log", "domain": [0.001, 1], "nice": false}, "axis": {"orient": "left", "values": [0.001,0.002,0.003,0.004,0.005,0.006,0.007,0.008,0.009,0.01,0.02,0.03,0.04,0.05,0.06,0.07,0.08,0.09,0.1,0.2,0.3,0.4,0.5,0.6,0.7,0.8,0.9,1], "labelExpr": "indexof([0.001,0.01,0.1,1], datum.value) >= 0 ? format(datum.value, '.3f') : ''", "tickSize": {"condition": {"test": "indexof([0.001,0.01,0.1,1], datum.value) >= 0", "value": -10}, "value": -5}, "title": "α"}},
        "strokeDash": {"field": "s", "type": "nominal", "scale": {"domain": ["mt", "tp"], "range": [[1, 0], [12, 8]]}, "legend": {"title": null, "legendX": 143, "legendY": 16, "labelOffset": 27, "labelFontSize": 34, "rowPadding": 0, "labelExpr": "datum.value === 'mt' ? 'αₘₜ' : 'αₜₚ'"}}
       }},
      {"mark": {"type": "line", "opacity": 0},
       "encoding": {
        "x": {"field": "t", "type": "quantitative", "scale": {"domain": [0, 30], "nice": false}, "axis": {"orient": "top", "values": [0,1,2,3,4,5,6,7,8,9,10,11,12,13,14,15,16,17,18,19,20,21,22,23,24,25,26,27,28,29,30], "labels": false, "tickSize": {"condition": {"test": "datum.value % 10 === 0", "value": -10}, "value": -5}, "title": "Run B3", "titleFontSize": 23, "titlePadding": 10}},
        "y": {"field": "v", "type": "quantitative", "scale": {"type": "log", "domain": [0.001, 1], "nice": false}, "axis": {"orient": "right", "values": [0.001,0.002,0.003,0.004,0.005,0.006,0.007,0.008,0.009,0.01,0.02,0.03,0.04,0.05,0.06,0.07,0.08,0.09,0.1,0.2,0.3,0.4,0.5,0.6,0.7,0.8,0.9,1], "labels": false, "tickSize": {"condition": {"test": "indexof([0.001,0.01,0.1,1], datum.value) >= 0", "value": -10}, "value": -5}, "title": null}}
       }},
      {"mark": {"type": "line", "opacity": 0},
       "encoding": {
        "x": {"field": "t", "type": "quantitative", "scale": {"domain": [0, 30], "nice": false}, "axis": {"orient": "top", "ticks": false, "labels": false, "title": "(g)", "titleAnchor": "start", "titleFont": "Open Sans", "titleFontSize": 24, "titlePadding": 11}},
        "y": {"field": "v", "type": "quantitative", "scale": {"type": "log", "domain": [0.001, 1], "nice": false}, "axis": null}
       }}
     ]},
    {"data": {"name": "runB4"}, "width": 322, "height": 353, "resolve": {"axis": {"x": "independent", "y": "independent"}},
     "layer": [
      {"mark": {"type": "line", "clip": true},
       "encoding": {
        "x": {"field": "t", "type": "quantitative", "scale": {"domain": [0, 30], "nice": false}, "axis": {"orient": "bottom", "values": [0,1,2,3,4,5,6,7,8,9,10,11,12,13,14,15,16,17,18,19,20,21,22,23,24,25,26,27,28,29,30], "labelExpr": "datum.value % 10 === 0 ? datum.label : ''", "tickSize": {"condition": {"test": "datum.value % 10 === 0", "value": -10}, "value": -5}, "title": "t"}},
        "y": {"field": "v", "type": "quantitative", "scale": {"type": "log", "domain": [0.001, 1], "nice": false}, "axis": {"orient": "left", "values": [0.001,0.002,0.003,0.004,0.005,0.006,0.007,0.008,0.009,0.01,0.02,0.03,0.04,0.05,0.06,0.07,0.08,0.09,0.1,0.2,0.3,0.4,0.5,0.6,0.7,0.8,0.9,1], "labelExpr": "indexof([0.001,0.01,0.1,1], datum.value) >= 0 ? format(datum.value, '.3f') : ''", "tickSize": {"condition": {"test": "indexof([0.001,0.01,0.1,1], datum.value) >= 0", "value": -10}, "value": -5}, "title": "α"}},
        "strokeDash": {"field": "s", "type": "nominal", "scale": {"domain": ["mt", "tp"], "range": [[1, 0], [12, 8]]}, "legend": {"title": null, "legendX": 148, "legendY": 16, "labelOffset": 32, "labelFontSize": 34, "rowPadding": 0, "labelExpr": "datum.value === 'mt' ? 'αₘₜ' : 'αₜₚ'"}}
       }},
      {"mark": {"type": "line", "opacity": 0},
       "encoding": {
        "x": {"field": "t", "type": "quantitative", "scale": {"domain": [0, 30], "nice": false}, "axis": {"orient": "top", "values": [0,1,2,3,4,5,6,7,8,9,10,11,12,13,14,15,16,17,18,19,20,21,22,23,24,25,26,27,28,29,30], "labels": false, "tickSize": {"condition": {"test": "datum.value % 10 === 0", "value": -10}, "value": -5}, "title": "Run B4", "titleFontSize": 23, "titlePadding": 10}},
        "y": {"field": "v", "type": "quantitative", "scale": {"type": "log", "domain": [0.001, 1], "nice": false}, "axis": {"orient": "right", "values": [0.001,0.002,0.003,0.004,0.005,0.006,0.007,0.008,0.009,0.01,0.02,0.03,0.04,0.05,0.06,0.07,0.08,0.09,0.1,0.2,0.3,0.4,0.5,0.6,0.7,0.8,0.9,1], "labels": false, "tickSize": {"condition": {"test": "indexof([0.001,0.01,0.1,1], datum.value) >= 0", "value": -10}, "value": -5}, "title": null}}
       }},
      {"mark": {"type": "line", "opacity": 0},
       "encoding": {
        "x": {"field": "t", "type": "quantitative", "scale": {"domain": [0, 30], "nice": false}, "axis": {"orient": "top", "ticks": false, "labels": false, "title": "(h)", "titleAnchor": "start", "titleFont": "Open Sans", "titleFontSize": 24, "titlePadding": 11}},
        "y": {"field": "v", "type": "quantitative", "scale": {"type": "log", "domain": [0.001, 1], "nice": false}, "axis": null}
       }}
     ]},
    {"data": {"name": "modelA1"}, "width": 322, "height": 353, "resolve": {"axis": {"x": "independent", "y": "independent"}},
     "layer": [
      {"mark": {"type": "line", "clip": true},
       "encoding": {
        "x": {"field": "t", "type": "quantitative", "scale": {"domain": [0, 30], "nice": false}, "axis": {"orient": "bottom", "values": [0,1,2,3,4,5,6,7,8,9,10,11,12,13,14,15,16,17,18,19,20,21,22,23,24,25,26,27,28,29,30], "labelExpr": "datum.value % 10 === 0 ? datum.label : ''", "tickSize": {"condition": {"test": "datum.value % 10 === 0", "value": -10}, "value": -5}, "title": "t"}},
        "y": {"field": "v", "type": "quantitative", "scale": {"type": "log", "domain": [0.001, 1], "nice": false}, "axis": {"orient": "left", "values": [0.001,0.002,0.003,0.004,0.005,0.006,0.007,0.008,0.009,0.01,0.02,0.03,0.04,0.05,0.06,0.07,0.08,0.09,0.1,0.2,0.3,0.4,0.5,0.6,0.7,0.8,0.9,1], "labelExpr": "indexof([0.001,0.01,0.1,1], datum.value) >= 0 ? format(datum.value, '.3f') : ''", "tickSize": {"condition": {"test": "indexof([0.001,0.01,0.1,1], datum.value) >= 0", "value": -10}, "value": -5}, "title": "α"}},
        "strokeDash": {"field": "s", "type": "nominal", "scale": {"domain": ["tension", "ssdrag"], "range": [[1, 0], [12, 8]]}, "legend": {"title": null, "legendX": 113, "legendY": 19, "labelOffset": 16, "labelFontSize": 28, "rowPadding": 5, "labelExpr": "datum.value === 'tension' ? 'αₜₑₙₛᵢₒₙ' : 'αₛₛ+αdrag'"}}
       }},
      {"mark": {"type": "line", "opacity": 0},
       "encoding": {
        "x": {"field": "t", "type": "quantitative", "scale": {"domain": [0, 30], "nice": false}, "axis": {"orient": "top", "values": [0,1,2,3,4,5,6,7,8,9,10,11,12,13,14,15,16,17,18,19,20,21,22,23,24,25,26,27,28,29,30], "labels": false, "tickSize": {"condition": {"test": "datum.value % 10 === 0", "value": -10}, "value": -5}, "title": "Model A1", "titleFontSize": 23, "titlePadding": 10}},
        "y": {"field": "v", "type": "quantitative", "scale": {"type": "log", "domain": [0.001, 1], "nice": false}, "axis": {"orient": "right", "values": [0.001,0.002,0.003,0.004,0.005,0.006,0.007,0.008,0.009,0.01,0.02,0.03,0.04,0.05,0.06,0.07,0.08,0.09,0.1,0.2,0.3,0.4,0.5,0.6,0.7,0.8,0.9,1], "labels": false, "tickSize": {"condition": {"test": "indexof([0.001,0.01,0.1,1], datum.value) >= 0", "value": -10}, "value": -5}, "title": null}}
       }},
      {"mark": {"type": "line", "opacity": 0},
       "encoding": {
        "x": {"field": "t", "type": "quantitative", "scale": {"domain": [0, 30], "nice": false}, "axis": {"orient": "top", "ticks": false, "labels": false, "title": "(i)", "titleAnchor": "start", "titleFont": "Open Sans", "titleFontSize": 24, "titlePadding": 11}},
        "y": {"field": "v", "type": "quantitative", "scale": {"type": "log", "domain": [0.001, 1], "nice": false}, "axis": null}
       }}
     ]},
    {"data": {"name": "modelA2"}, "width": 322, "height": 353, "resolve": {"axis": {"x": "independent", "y": "independent"}},
     "layer": [
      {"mark": {"type": "line", "clip": true},
       "encoding": {
        "x": {"field": "t", "type": "quantitative", "scale": {"domain": [0, 30], "nice": false}, "axis": {"orient": "bottom", "values": [0,1,2,3,4,5,6,7,8,9,10,11,12,13,14,15,16,17,18,19,20,21,22,23,24,25,26,27,28,29,30], "labelExpr": "datum.value % 10 === 0 ? datum.label : ''", "tickSize": {"condition": {"test": "datum.value % 10 === 0", "value": -10}, "value": -5}, "title": "t"}},
        "y": {"field": "v", "type": "quantitative", "scale": {"type": "log", "domain": [0.001, 1], "nice": false}, "axis": {"orient": "left", "values": [0.001,0.002,0.003,0.004,0.005,0.006,0.007,0.008,0.009,0.01,0.02,0.03,0.04,0.05,0.06,0.07,0.08,0.09,0.1,0.2,0.3,0.4,0.5,0.6,0.7,0.8,0.9,1], "labelExpr": "indexof([0.001,0.01,0.1,1], datum.value) >= 0 ? format(datum.value, '.3f') : ''", "tickSize": {"condition": {"test": "indexof([0.001,0.01,0.1,1], datum.value) >= 0", "value": -10}, "value": -5}, "title": "α"}},
        "strokeDash": {"field": "s", "type": "nominal", "scale": {"domain": ["tension", "ssdrag"], "range": [[1, 0], [12, 8]]}, "legend": {"title": null, "legendX": 120, "legendY": 19, "labelOffset": 20, "labelFontSize": 28, "rowPadding": 5, "labelExpr": "datum.value === 'tension' ? 'αₜₑₙₛᵢₒₙ' : 'αₛₛ+αdrag'"}}
       }},
      {"mark": {"type": "line", "opacity": 0},
       "encoding": {
        "x": {"field": "t", "type": "quantitative", "scale": {"domain": [0, 30], "nice": false}, "axis": {"orient": "top", "values": [0,1,2,3,4,5,6,7,8,9,10,11,12,13,14,15,16,17,18,19,20,21,22,23,24,25,26,27,28,29,30], "labels": false, "tickSize": {"condition": {"test": "datum.value % 10 === 0", "value": -10}, "value": -5}, "title": "Model A2", "titleFontSize": 23, "titlePadding": 10}},
        "y": {"field": "v", "type": "quantitative", "scale": {"type": "log", "domain": [0.001, 1], "nice": false}, "axis": {"orient": "right", "values": [0.001,0.002,0.003,0.004,0.005,0.006,0.007,0.008,0.009,0.01,0.02,0.03,0.04,0.05,0.06,0.07,0.08,0.09,0.1,0.2,0.3,0.4,0.5,0.6,0.7,0.8,0.9,1], "labels": false, "tickSize": {"condition": {"test": "indexof([0.001,0.01,0.1,1], datum.value) >= 0", "value": -10}, "value": -5}, "title": null}}
       }},
      {"mark": {"type": "line", "opacity": 0},
       "encoding": {
        "x": {"field": "t", "type": "quantitative", "scale": {"domain": [0, 30], "nice": false}, "axis": {"orient": "top", "ticks": false, "labels": false, "title": "(j)", "titleAnchor": "start", "titleFont": "Open Sans", "titleFontSize": 24, "titlePadding": 11}},
        "y": {"field": "v", "type": "quantitative", "scale": {"type": "log", "domain": [0.001, 1], "nice": false}, "axis": null}
       }}
     ]},
    {"data": {"name": "modelA3"}, "width": 322, "height": 353, "resolve": {"axis": {"x": "independent", "y": "independent"}},
     "layer": [
      {"mark": {"type": "line", "clip": true},
       "encoding": {
        "x": {"field": "t", "type": "quantitative", "scale": {"domain": [0, 30], "nice": false}, "axis": {"orient": "bottom", "values": [0,1,2,3,4,5,6,7,8,9,10,11,12,13,14,15,16,17,18,19,20,21,22,23,24,25,26,27,28,29,30], "labelExpr": "datum.value % 10 === 0 ? datum.label : ''", "tickSize": {"condition": {"test": "datum.value % 10 === 0", "value": -10}, "value": -5}, "title": "t"}},
        "y": {"field": "v", "type": "quantitative", "scale": {"type": "log", "domain": [0.001, 1], "nice": false}, "axis": {"orient": "left", "values": [0.001,0.002,0.003,0.004,0.005,0.006,0.007,0.008,0.009,0.01,0.02,0.03,0.04,0.05,0.06,0.07,0.08,0.09,0.1,0.2,0.3,0.4,0.5,0.6,0.7,0.8,0.9,1], "labelExpr": "indexof([0.001,0.01,0.1,1], datum.value) >= 0 ? format(datum.value, '.3f') : ''", "tickSize": {"condition": {"test": "indexof([0.001,0.01,0.1,1], datum.value) >= 0", "value": -10}, "value": -5}, "title": "α"}},
        "strokeDash": {"field": "s", "type": "nominal", "scale": {"domain": ["tension", "ssdrag"], "range": [[1, 0], [12, 8]]}, "legend": {"title": null, "legendX": 122, "legendY": 19, "labelOffset": 24, "labelFontSize": 28, "rowPadding": 5, "labelExpr": "datum.value === 'tension' ? 'αₜₑₙₛᵢₒₙ' : 'αₛₛ+αdrag'"}}
       }},
      {"mark": {"type": "line", "opacity": 0},
       "encoding": {
        "x": {"field": "t", "type": "quantitative", "scale": {"domain": [0, 30], "nice": false}, "axis": {"orient": "top", "values": [0,1,2,3,4,5,6,7,8,9,10,11,12,13,14,15,16,17,18,19,20,21,22,23,24,25,26,27,28,29,30], "labels": false, "tickSize": {"condition": {"test": "datum.value % 10 === 0", "value": -10}, "value": -5}, "title": "Model A3", "titleFontSize": 23, "titlePadding": 10}},
        "y": {"field": "v", "type": "quantitative", "scale": {"type": "log", "domain": [0.001, 1], "nice": false}, "axis": {"orient": "right", "values": [0.001,0.002,0.003,0.004,0.005,0.006,0.007,0.008,0.009,0.01,0.02,0.03,0.04,0.05,0.06,0.07,0.08,0.09,0.1,0.2,0.3,0.4,0.5,0.6,0.7,0.8,0.9,1], "labels": false, "tickSize": {"condition": {"test": "indexof([0.001,0.01,0.1,1], datum.value) >= 0", "value": -10}, "value": -5}, "title": null}}
       }},
      {"mark": {"type": "line", "opacity": 0},
       "encoding": {
        "x": {"field": "t", "type": "quantitative", "scale": {"domain": [0, 30], "nice": false}, "axis": {"orient": "top", "ticks": false, "labels": false, "title": "(k)", "titleAnchor": "start", "titleFont": "Open Sans", "titleFontSize": 24, "titlePadding": 11}},
        "y": {"field": "v", "type": "quantitative", "scale": {"type": "log", "domain": [0.001, 1], "nice": false}, "axis": null}
       }}
     ]},
    {"data": {"name": "modelA4"}, "width": 322, "height": 353, "resolve": {"axis": {"x": "independent", "y": "independent"}},
     "layer": [
      {"mark": {"type": "line", "clip": true},
       "encoding": {
        "x": {"field": "t", "type": "quantitative", "scale": {"domain": [0, 30], "nice": false}, "axis": {"orient": "bottom", "values": [0,1,2,3,4,5,6,7,8,9,10,11,12,13,14,15,16,17,18,19,20,21,22,23,24,25,26,27,28,29,30], "labelExpr": "datum.value % 10 === 0 ? datum.label : ''", "tickSize": {"condition": {"test": "datum.value % 10 === 0", "value": -10}, "value": -5}, "title": "t"}},
        "y": {"field": "v", "type": "quantitative", "scale": {"type": "log", "domain": [0.001, 1], "nice": false}, "axis": {"orient": "left", "values": [0.001,0.002,0.003,0.004,0.005,0.006,0.007,0.008,0.009,0.01,0.02,0.03,0.04,0.05,0.06,0.07,0.08,0.09,0.1,0.2,0.3,0.4,0.5,0.6,0.7,0.8,0.9,1], "labelExpr": "indexof([0.001,0.01,0.1,1], datum.value) >= 0 ? format(datum.value, '.3f') : ''", "tickSize": {"condition": {"test": "indexof([0.001,0.01,0.1,1], datum.value) >= 0", "value": -10}, "value": -5}, "title": "α"}},
        "strokeDash": {"field": "s", "type": "nominal", "scale": {"domain": ["tension", "ssdrag"], "range": [[1, 0], [12, 8]]}, "legend": {"title": null, "legendX": 126, "legendY": 19, "labelOffset": 19, "labelFontSize": 28, "rowPadding": 5, "labelExpr": "datum.value === 'tension' ? 'αₜₑₙₛᵢₒₙ' : 'αₛₛ+αdrag'"}}
       }},
      {"mark": {"type": "line", "opacity": 0},
       "encoding": {
        "x": {"field": "t", "type": "quantitative", "scale": {"domain": [0, 30], "nice": false}, "axis": {"orient": "top", "values": [0,1,2,3,4,5,6,7,8,9,10,11,12,13,14,15,16,17,18,19,20,21,22,23,24,25,26,27,28,29,30], "labels": false, "tickSize": {"condition": {"test": "datum.value % 10 === 0", "value": -10}, "value": -5}, "title": "Model A4", "titleFontSize": 23, "titlePadding": 10}},
        "y": {"field": "v", "type": "quantitative", "scale": {"type": "log", "domain": [0.001, 1], "nice": false}, "axis": {"orient": "right", "values": [0.001,0.002,0.003,0.004,0.005,0.006,0.007,0.008,0.009,0.01,0.02,0.03,0.04,0.05,0.06,0.07,0.08,0.09,0.1,0.2,0.3,0.4,0.5,0.6,0.7,0.8,0.9,1], "labels": false, "tickSize": {"condition": {"test": "indexof([0.001,0.01,0.1,1], datum.value) >= 0", "value": -10}, "value": -5}, "title": null}}
       }},
      {"mark": {"type": "line", "opacity": 0},
       "encoding": {
        "x": {"field": "t", "type": "quantitative", "scale": {"domain": [0, 30], "nice": false}, "axis": {"orient": "top", "ticks": false, "labels": false, "title": "(l)", "titleAnchor": "start", "titleFont": "Open Sans", "titleFontSize": 24, "titlePadding": 11}},
        "y": {"field": "v", "type": "quantitative", "scale": {"type": "log", "domain": [0.001, 1], "nice": false}, "axis": null}
       }}
     ]}
  ]
}
